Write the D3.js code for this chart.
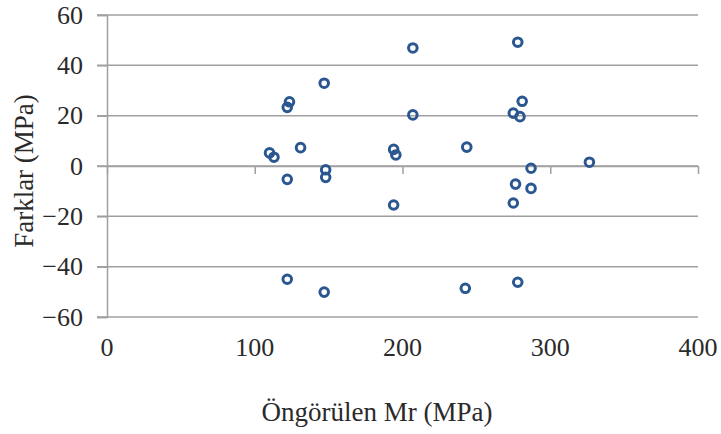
<!DOCTYPE html>
<html>
<head>
<meta charset="utf-8">
<script src="https://cdn.jsdelivr.net/npm/d3@7"></script>
<style>
  body { margin: 0; background: #fff; }
</style>
</head>
<body>
<div id="chart"></div>
<script>
// Data
var predicted = [110, 113, 123.5, 122, 131, 122, 147, 148, 148, 122, 147,
                 207, 207, 194, 195.5, 194, 243.5, 242.5,
                 278, 281, 275, 279.5, 287, 276.5, 287, 275, 278, 326.5];
var diffs = [5.2, 3.5, 25.5, 23.3, 7.3, -5.3, 32.9, -1.5, -4.5, -45, -50.1,
             46.9, 20.3, 6.6, 4.4, -15.5, 7.5, -48.6,
             49.2, 25.7, 21, 19.6, -0.9, -7.2, -8.9, -14.7, -46.2, 1.5];
var xTicks = [0, 100, 200, 300, 400];
var yTicks = [-60, -40, -20, 0, 20, 40, 60];
var xTitle = 'Öngörülen Mr (MPa)',
    yTitle = 'Farklar (MPa)';

var data = predicted.map(function(d, i) { return {x: d, y: diffs[i]}; });

var width = 721,
    height = 434,
    margin = {left: 107, right: 23, top: 15, bottom: 117};

var chartWidth = width - margin.left - margin.right,
    chartHeight = height - margin.top - margin.bottom;

var fontFamily = 'Liberation Serif';
var textColor = '#2a2a2a';
var lineColor = '#a0a0a0';

var xScale = d3.scaleLinear().domain([0, 400]).range([0, chartWidth]);
var yScale = d3.scaleLinear().domain([-60, 60]).range([chartHeight, 0]);

var svg = d3.select('#chart').append('svg')
    .attr('width', width)
    .attr('height', height);

var g = svg.append('g')
    .attr('transform', 'translate(' + margin.left + ',' + margin.top + ')');

// horizontal gridlines (with the left tick stubs)
g.append('g').attr('class', 'grid')
    .selectAll('line').data(yTicks).enter().append('line')
    .attr('x1', -10)
    .attr('x2', chartWidth)
    .attr('y1', function(d) { return yScale(d); })
    .attr('y2', function(d) { return yScale(d); })
    .attr('stroke', lineColor)
    .attr('stroke-width', 1.5);

// y axis
var yAxis = d3.axisLeft(yScale).tickValues(yTicks).tickSize(10).tickPadding(14);
var yG = g.append('g').attr('class', 'axis y').call(yAxis);
yG.select('.domain').attr('stroke', lineColor).attr('stroke-width', 1.5);
yG.selectAll('.tick line').attr('stroke', lineColor).attr('stroke-width', 1.5);
yG.selectAll('.tick text')
    .style('font-family', fontFamily)
    .style('font-size', '26px')
    .attr('fill', textColor);

// x axis line sits on y = 0, labels below the plot
var xAxis = d3.axisBottom(xScale).tickValues(xTicks).tickSize(8).tickSizeOuter(0).tickFormat('');
var xG = g.append('g').attr('class', 'axis x')
    .attr('transform', 'translate(0,' + yScale(0) + ')')
    .call(xAxis);
xG.select('.domain').attr('stroke', lineColor).attr('stroke-width', 1.5);
xG.selectAll('.tick line').attr('stroke', lineColor).attr('stroke-width', 1.5);

g.append('g').attr('class', 'xlabels')
    .selectAll('text').data(xTicks).enter().append('text')
    .attr('x', function(d) { return xScale(d); })
    .attr('y', chartHeight + 39)
    .attr('text-anchor', 'middle')
    .style('font-family', fontFamily)
    .style('font-size', '26px')
    .attr('fill', textColor)
    .text(function(d) { return d; });

// titles
svg.append('text')
    .attr('transform', 'translate(377,421)')
    .attr('text-anchor', 'middle')
    .style('font-family', fontFamily)
    .style('font-size', '27px')
    .attr('fill', textColor)
    .text(xTitle);

svg.append('text')
    .attr('transform', 'translate(33,171) rotate(-90)')
    .attr('text-anchor', 'middle')
    .style('font-family', fontFamily)
    .style('font-size', '27px')
    .attr('fill', textColor)
    .text(yTitle);

// markers
g.append('g').attr('class', 'points')
    .selectAll('circle').data(data).enter().append('circle')
    .attr('cx', function(d) { return xScale(d.x); })
    .attr('cy', function(d) { return yScale(d.y); })
    .attr('r', 4.3)
    .attr('fill', 'none')
    .attr('stroke', '#2b5790')
    .attr('stroke-width', 3);
</script>
</body>
</html>
